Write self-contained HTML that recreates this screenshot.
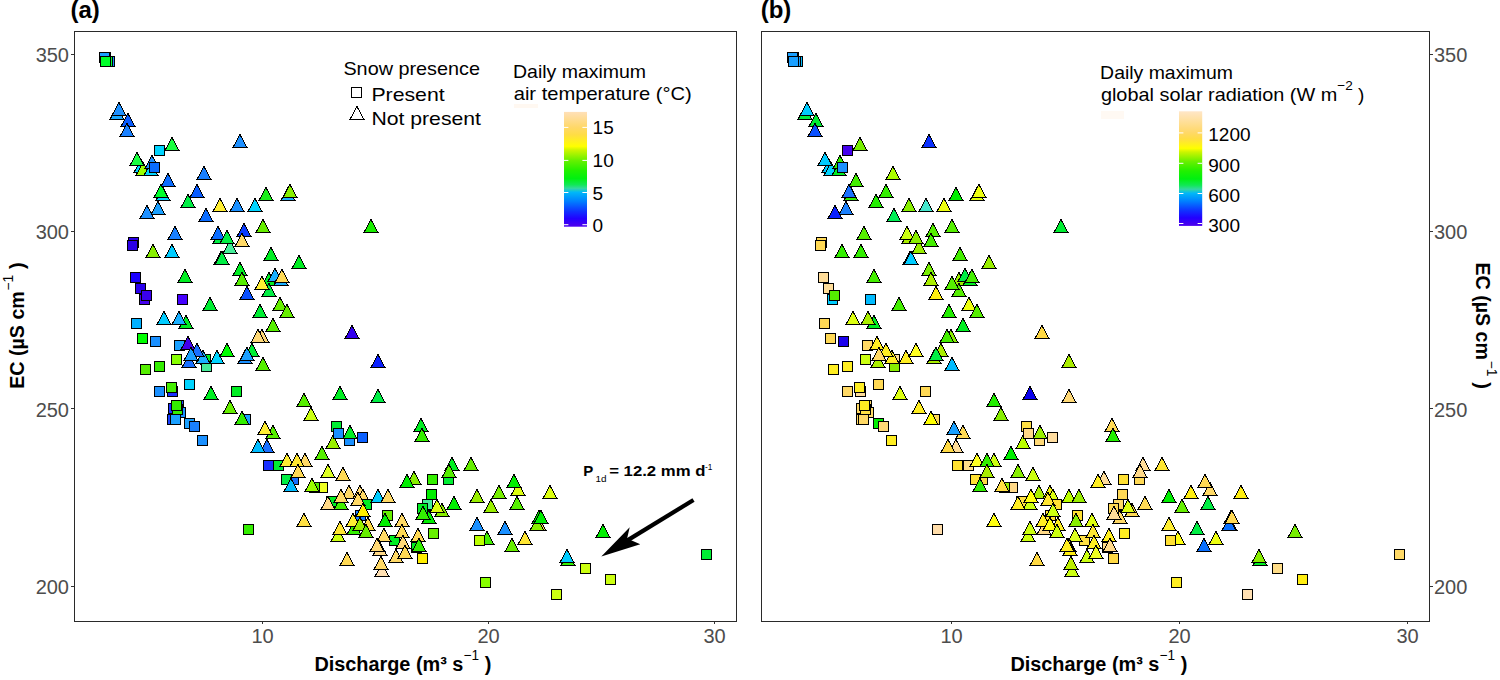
<!DOCTYPE html>
<html><head><meta charset="utf-8"><title>EC vs Discharge</title>
<style>
html,body{margin:0;padding:0;background:#fff;}
body{width:1500px;height:680px;overflow:hidden;font-family:"Liberation Sans",sans-serif;}
svg{display:block;font-family:"Liberation Sans",sans-serif;}
.tk{font-size:20px;fill:#4d4d4d;}
.ax{font-weight:bold;fill:#000;}
.lg{fill:#000;}
.mk path,.mk rect{stroke:#000;stroke-width:1.0;stroke-linejoin:miter;}
</style></head><body>
<svg width="1500" height="680" viewBox="0 0 1500 680">
<defs>
<linearGradient id="topo" x1="0" y1="1" x2="0" y2="0">
<stop offset="0" stop-color="#4c00f0"/>
<stop offset="0.018" stop-color="#4400f0"/>
<stop offset="0.07" stop-color="#2200ff"/>
<stop offset="0.132" stop-color="#1030ff"/>
<stop offset="0.222" stop-color="#0080ff"/>
<stop offset="0.3" stop-color="#00b8f8"/>
<stop offset="0.334" stop-color="#33d8a0"/>
<stop offset="0.366" stop-color="#11e855"/>
<stop offset="0.42" stop-color="#00f010"/>
<stop offset="0.49" stop-color="#22f000"/>
<stop offset="0.576" stop-color="#66f000"/>
<stop offset="0.667" stop-color="#ccf500"/>
<stop offset="0.7" stop-color="#ffff00"/>
<stop offset="0.8" stop-color="#ffdd44"/>
<stop offset="0.865" stop-color="#ffd868"/>
<stop offset="1.0" stop-color="#ffe0b8"/>
</linearGradient>
<linearGradient id="topo2" x1="0" y1="1" x2="0" y2="0">
<stop offset="0" stop-color="#4c00f0"/>
<stop offset="0.018" stop-color="#4400f0"/>
<stop offset="0.07" stop-color="#2200ff"/>
<stop offset="0.132" stop-color="#1030ff"/>
<stop offset="0.215" stop-color="#0080ff"/>
<stop offset="0.285" stop-color="#00b8f8"/>
<stop offset="0.32" stop-color="#33d8a0"/>
<stop offset="0.355" stop-color="#11e855"/>
<stop offset="0.41" stop-color="#00f010"/>
<stop offset="0.48" stop-color="#22f000"/>
<stop offset="0.56" stop-color="#66f000"/>
<stop offset="0.645" stop-color="#ccf500"/>
<stop offset="0.677" stop-color="#ffff00"/>
<stop offset="0.76" stop-color="#ffdd44"/>
<stop offset="0.815" stop-color="#ffd868"/>
<stop offset="1.0" stop-color="#ffe6c8"/>
</linearGradient>
</defs>
<rect width="1500" height="680" fill="#fff"/>

<text x="70.5" y="17.6" font-size="24" font-weight="bold">(a)</text>
<text x="760.7" y="17.6" font-size="24" font-weight="bold">(b)</text>
<g class="mk" shape-rendering="crispEdges">
<rect x="100.5" y="52.5" width="10" height="10" fill="#1a9fff"/>
<rect x="99.5" y="52.5" width="10" height="10" fill="#1a9fff"/>
<rect x="104.5" y="56.5" width="10" height="10" fill="#1a8cff"/>
<rect x="102.5" y="56.5" width="10" height="10" fill="#00ff2a"/>
<rect x="100.5" y="56.5" width="10" height="10" fill="#00ff2a"/>
<path d="M117 106.5L124 119.5L110 119.5Z" fill="#1aa8ff"/>
<path d="M119 102.5L126 115.5L112 115.5Z" fill="#1e90ff"/>
<path d="M128 113.5L135 126.5L121 126.5Z" fill="#0a5cff"/>
<path d="M127 123.5L134 136.5L120 136.5Z" fill="#1a80ff"/>
<path d="M172 137.5L179 150.5L165 150.5Z" fill="#1aff40"/>
<rect x="154.5" y="145.5" width="10" height="10" fill="#00d4ff"/>
<path d="M240 134.5L247 147.5L233 147.5Z" fill="#1e90ff"/>
<path d="M141 159.5L148 172.5L134 172.5Z" fill="#00d4ff"/>
<path d="M143 162.5L150 175.5L136 175.5Z" fill="#99ff00"/>
<path d="M137 152.5L144 165.5L130 165.5Z" fill="#1aff40"/>
<path d="M151 162.5L158 175.5L144 175.5Z" fill="#00d4ff"/>
<path d="M152 155.5L159 168.5L145 168.5Z" fill="#1e90ff"/>
<rect x="149.5" y="162.5" width="10" height="10" fill="#0a6cff"/>
<path d="M168 173.5L175 186.5L161 186.5Z" fill="#0a6cff"/>
<path d="M163 187.5L170 200.5L156 200.5Z" fill="#00d4ff"/>
<path d="M161 184.5L168 197.5L154 197.5Z" fill="#00ff2a"/>
<path d="M204 166.5L211 179.5L197 179.5Z" fill="#1a80ff"/>
<path d="M197 184.5L204 197.5L190 197.5Z" fill="#0a5cff"/>
<path d="M266 187.5L273 200.5L259 200.5Z" fill="#1aee1a"/>
<path d="M188 194.5L195 207.5L181 207.5Z" fill="#00ee44"/>
<path d="M158 201.5L165 214.5L151 214.5Z" fill="#1aa0ff"/>
<path d="M147 205.5L154 218.5L140 218.5Z" fill="#1e90ff"/>
<path d="M220 198.5L227 211.5L213 211.5Z" fill="#ffee33"/>
<path d="M237 198.5L244 211.5L230 211.5Z" fill="#1a90ff"/>
<path d="M255 198.5L262 211.5L248 211.5Z" fill="#00d4ff"/>
<path d="M206 208.5L213 221.5L199 221.5Z" fill="#0a6cff"/>
<path d="M175 226.5L182 239.5L168 239.5Z" fill="#1a80ff"/>
<path d="M220 230.5L227 243.5L213 243.5Z" fill="#00ee44"/>
<path d="M218 226.5L225 239.5L211 239.5Z" fill="#0a6cff"/>
<path d="M230 240.5L237 253.5L223 253.5Z" fill="#44ee99"/>
<path d="M227 230.5L234 243.5L220 243.5Z" fill="#00ee44"/>
<path d="M244 223.5L251 236.5L237 236.5Z" fill="#0a3cff"/>
<path d="M263 219.5L270 232.5L256 232.5Z" fill="#66ee00"/>
<path d="M242 233.5L249 246.5L235 246.5Z" fill="#ffd966"/>
<path d="M221 251.5L228 264.5L214 264.5Z" fill="#00ee44"/>
<path d="M222 251.5L229 264.5L215 264.5Z" fill="#00ee44"/>
<path d="M271 247.5L278 260.5L264 260.5Z" fill="#00ee22"/>
<rect x="128.5" y="237.5" width="10" height="10" fill="#2a00e6"/>
<rect x="127.5" y="240.5" width="10" height="10" fill="#2a00e6"/>
<path d="M153 244.5L160 257.5L146 257.5Z" fill="#88ee00"/>
<path d="M172 244.5L179 257.5L165 257.5Z" fill="#00ccff"/>
<rect x="130.5" y="272.5" width="10" height="10" fill="#1a00ff"/>
<rect x="135.5" y="283.5" width="10" height="10" fill="#2a00ee"/>
<rect x="139.5" y="294.5" width="10" height="10" fill="#4400ee"/>
<rect x="141.5" y="290.5" width="10" height="10" fill="#3a00ee"/>
<rect x="177.5" y="294.5" width="10" height="10" fill="#4400ff"/>
<path d="M185 269.5L192 282.5L178 282.5Z" fill="#00ee22"/>
<path d="M210 297.5L217 310.5L203 310.5Z" fill="#00ee33"/>
<path d="M164 311.5L171 324.5L157 324.5Z" fill="#00ccff"/>
<path d="M186 315.5L193 328.5L179 328.5Z" fill="#00ee22"/>
<path d="M179 311.5L186 324.5L172 324.5Z" fill="#1ab0ff"/>
<rect x="131.5" y="318.5" width="10" height="10" fill="#00b0ff"/>
<rect x="137.5" y="333.5" width="10" height="10" fill="#00ff00"/>
<rect x="150.5" y="336.5" width="10" height="10" fill="#1a90ff"/>
<rect x="174.5" y="340.5" width="10" height="10" fill="#1aa0ff"/>
<path d="M188 336.5L195 349.5L181 349.5Z" fill="#4400ee"/>
<rect x="200.5" y="354.5" width="10" height="10" fill="#00ee22"/>
<rect x="201.5" y="361.5" width="10" height="10" fill="#44ee99"/>
<path d="M189 354.5L196 367.5L182 367.5Z" fill="#1a70ff"/>
<path d="M203 350.5L210 363.5L196 363.5Z" fill="#1ab0ff"/>
<path d="M197 343.5L204 356.5L190 356.5Z" fill="#1a70ff"/>
<path d="M191 347.5L198 360.5L184 360.5Z" fill="#1aa0ff"/>
<rect x="171.5" y="354.5" width="10" height="10" fill="#88ff00"/>
<path d="M217 350.5L224 363.5L210 363.5Z" fill="#00d4ff"/>
<path d="M227 343.5L234 356.5L220 356.5Z" fill="#00ff00"/>
<path d="M252 343.5L259 356.5L245 356.5Z" fill="#00ee33"/>
<path d="M245 350.5L252 363.5L238 363.5Z" fill="#1a90ff"/>
<path d="M247 347.5L254 360.5L240 360.5Z" fill="#1aa0ff"/>
<path d="M240 262.5L247 275.5L233 275.5Z" fill="#00ee22"/>
<path d="M242 272.5L249 285.5L235 285.5Z" fill="#55ee00"/>
<path d="M247 286.5L254 299.5L240 299.5Z" fill="#0a50ff"/>
<path d="M269 272.5L276 285.5L262 285.5Z" fill="#00ee22"/>
<path d="M269 283.5L276 296.5L262 296.5Z" fill="#00ee44"/>
<path d="M262 276.5L269 289.5L255 289.5Z" fill="#ffee33"/>
<path d="M281 272.5L288 285.5L274 285.5Z" fill="#1ab0ff"/>
<path d="M275 268.5L282 281.5L268 281.5Z" fill="#1ab0ff"/>
<path d="M282 269.5L289 282.5L275 282.5Z" fill="#ffd955"/>
<path d="M260 304.5L267 317.5L253 317.5Z" fill="#00ee33"/>
<path d="M280 297.5L287 310.5L273 310.5Z" fill="#66ee00"/>
<path d="M287 304.5L294 317.5L280 317.5Z" fill="#66ee00"/>
<path d="M273 318.5L280 331.5L266 331.5Z" fill="#55ee00"/>
<path d="M262 329.5L269 342.5L255 342.5Z" fill="#ffd977"/>
<path d="M258 329.5L265 342.5L251 342.5Z" fill="#ffd977"/>
<path d="M263 357.5L270 370.5L256 370.5Z" fill="#55ee00"/>
<rect x="154.5" y="361.5" width="10" height="10" fill="#33ee00"/>
<rect x="140.5" y="364.5" width="10" height="10" fill="#55ee00"/>
<rect x="184.5" y="379.5" width="10" height="10" fill="#00d4ff"/>
<rect x="154.5" y="386.5" width="10" height="10" fill="#1a90ff"/>
<rect x="167.5" y="386.5" width="10" height="10" fill="#1a30ff"/>
<rect x="166.5" y="382.5" width="10" height="10" fill="#44ee00"/>
<path d="M211 386.5L218 399.5L204 399.5Z" fill="#00ee22"/>
<rect x="231.5" y="386.5" width="10" height="10" fill="#00ee22"/>
<rect x="168.5" y="403.5" width="10" height="10" fill="#1a30ff"/>
<rect x="173.5" y="400.5" width="10" height="10" fill="#1a50ff"/>
<rect x="175.5" y="407.5" width="10" height="10" fill="#1a90ff"/>
<rect x="172.5" y="404.5" width="10" height="10" fill="#33ee00"/>
<rect x="171.5" y="400.5" width="10" height="10" fill="#33ee00"/>
<rect x="167.5" y="414.5" width="10" height="10" fill="#1a40ff"/>
<rect x="170.5" y="414.5" width="10" height="10" fill="#1aa0ff"/>
<rect x="184.5" y="418.5" width="10" height="10" fill="#1aa0ff"/>
<rect x="189.5" y="421.5" width="10" height="10" fill="#1a80ff"/>
<rect x="197.5" y="435.5" width="10" height="10" fill="#1a90ff"/>
<path d="M230 400.5L237 413.5L223 413.5Z" fill="#66ee00"/>
<rect x="240.5" y="414.5" width="10" height="10" fill="#1aa0ff"/>
<path d="M242 411.5L249 424.5L235 424.5Z" fill="#33ee00"/>
<path d="M273 425.5L280 438.5L266 438.5Z" fill="#55ee00"/>
<path d="M265 421.5L272 434.5L258 434.5Z" fill="#ffee33"/>
<path d="M267 439.5L274 452.5L260 452.5Z" fill="#1a70ff"/>
<path d="M258 439.5L265 452.5L251 452.5Z" fill="#00bbff"/>
<rect x="263.5" y="460.5" width="10" height="10" fill="#1a30ff"/>
<rect x="273.5" y="460.5" width="10" height="10" fill="#00ee33"/>
<path d="M305 453.5L312 466.5L298 466.5Z" fill="#ffd966"/>
<path d="M287 453.5L294 466.5L280 466.5Z" fill="#ffee33"/>
<path d="M297 453.5L304 466.5L290 466.5Z" fill="#ffe633"/>
<rect x="288.5" y="474.5" width="10" height="10" fill="#1a70ff"/>
<rect x="281.5" y="474.5" width="10" height="10" fill="#00ee44"/>
<path d="M298 464.5L305 477.5L291 477.5Z" fill="#ffd955"/>
<path d="M291 478.5L298 491.5L284 491.5Z" fill="#00bbff"/>
<rect x="317.5" y="482.5" width="10" height="10" fill="#eeff22"/>
<rect x="309.5" y="482.5" width="10" height="10" fill="#55ee00"/>
<path d="M312 478.5L319 491.5L305 491.5Z" fill="#99ff00"/>
<path d="M322 446.5L329 459.5L315 459.5Z" fill="#55ee00"/>
<path d="M333 435.5L340 448.5L326 448.5Z" fill="#99ee00"/>
<path d="M328 464.5L335 477.5L321 477.5Z" fill="#ddff22"/>
<path d="M343 467.5L350 480.5L336 480.5Z" fill="#ffd955"/>
<path d="M288 187.5L295 200.5L281 200.5Z" fill="#1ab0ff"/>
<path d="M290 184.5L297 197.5L283 197.5Z" fill="#88ee00"/>
<path d="M371 219.5L378 232.5L364 232.5Z" fill="#1aee00"/>
<path d="M299 255.5L306 268.5L292 268.5Z" fill="#00ee22"/>
<path d="M352 325.5L359 338.5L345 338.5Z" fill="#3300ee"/>
<path d="M378 354.5L385 367.5L371 367.5Z" fill="#0a20ff"/>
<path d="M340 386.5L347 399.5L333 399.5Z" fill="#00ee22"/>
<path d="M378 389.5L385 402.5L371 402.5Z" fill="#00ee44"/>
<path d="M304 393.5L311 406.5L297 406.5Z" fill="#55ee00"/>
<path d="M311 407.5L318 420.5L304 420.5Z" fill="#ccff11"/>
<rect x="331.5" y="421.5" width="10" height="10" fill="#00ee33"/>
<rect x="333.5" y="428.5" width="10" height="10" fill="#1a90ff"/>
<rect x="344.5" y="435.5" width="10" height="10" fill="#1a90ff"/>
<path d="M350 425.5L357 438.5L343 438.5Z" fill="#00ee22"/>
<rect x="357.5" y="432.5" width="10" height="10" fill="#0a60ff"/>
<path d="M421 418.5L428 431.5L414 431.5Z" fill="#00ee22"/>
<path d="M422 428.5L429 441.5L415 441.5Z" fill="#33ee00"/>
<path d="M452 457.5L459 470.5L445 470.5Z" fill="#00ee22"/>
<rect x="443.5" y="474.5" width="10" height="10" fill="#00ee33"/>
<path d="M449 464.5L456 477.5L442 477.5Z" fill="#55ee00"/>
<rect x="427.5" y="474.5" width="10" height="10" fill="#33ee00"/>
<path d="M414 471.5L421 484.5L407 484.5Z" fill="#88ee00"/>
<path d="M407 474.5L414 487.5L400 487.5Z" fill="#00ee00"/>
<rect x="326.5" y="496.5" width="10" height="10" fill="#00ee22"/>
<path d="M341 496.5L348 509.5L334 509.5Z" fill="#44ee00"/>
<path d="M349 485.5L356 498.5L342 498.5Z" fill="#ffd966"/>
<path d="M360 485.5L367 498.5L353 498.5Z" fill="#ffd977"/>
<path d="M363 489.5L370 502.5L356 502.5Z" fill="#ffd966"/>
<path d="M341 489.5L348 502.5L334 502.5Z" fill="#ffd966"/>
<rect x="361.5" y="499.5" width="10" height="10" fill="#00ee22"/>
<path d="M358 492.5L365 505.5L351 505.5Z" fill="#ffd966"/>
<path d="M328 496.5L335 509.5L321 509.5Z" fill="#ffd988"/>
<path d="M378 489.5L385 502.5L371 502.5Z" fill="#00ccff"/>
<path d="M388 489.5L395 502.5L381 502.5Z" fill="#ffd966"/>
<rect x="355.5" y="510.5" width="10" height="10" fill="#1a80ff"/>
<path d="M363 503.5L370 516.5L356 516.5Z" fill="#ffee00"/>
<rect x="382.5" y="510.5" width="10" height="10" fill="#66ee00"/>
<path d="M385 513.5L392 526.5L378 526.5Z" fill="#00ee00"/>
<path d="M402 513.5L409 526.5L395 526.5Z" fill="#ffd966"/>
<path d="M304 513.5L311 526.5L297 526.5Z" fill="#ffe044"/>
<path d="M354 521.5L361 534.5L347 534.5Z" fill="#33ee00"/>
<path d="M353 513.5L360 526.5L346 526.5Z" fill="#ffee33"/>
<path d="M368 517.5L375 530.5L361 530.5Z" fill="#ffd944"/>
<path d="M360 517.5L367 530.5L353 530.5Z" fill="#99ee00"/>
<path d="M338 528.5L345 541.5L331 541.5Z" fill="#ccff11"/>
<path d="M340 521.5L347 534.5L333 534.5Z" fill="#ffe633"/>
<path d="M366 524.5L373 537.5L359 537.5Z" fill="#66ee00"/>
<rect x="389.5" y="535.5" width="10" height="10" fill="#00ee22"/>
<path d="M384 528.5L391 541.5L377 541.5Z" fill="#ffd966"/>
<path d="M402 524.5L409 537.5L395 537.5Z" fill="#ffd955"/>
<path d="M403 535.5L410 548.5L396 548.5Z" fill="#ffd977"/>
<path d="M378 538.5L385 551.5L371 551.5Z" fill="#ffd977"/>
<path d="M380 542.5L387 555.5L373 555.5Z" fill="#ffd988"/>
<path d="M377 538.5L384 551.5L370 551.5Z" fill="#ffd977"/>
<path d="M396 549.5L403 562.5L389 562.5Z" fill="#ffd966"/>
<path d="M405 545.5L412 558.5L398 558.5Z" fill="#ffd955"/>
<path d="M382 563.5L389 576.5L375 576.5Z" fill="#ffe0b3"/>
<path d="M381 556.5L388 569.5L374 569.5Z" fill="#ffd966"/>
<path d="M347 552.5L354 565.5L340 565.5Z" fill="#ffd955"/>
<path d="M418 528.5L425 541.5L411 541.5Z" fill="#ffd955"/>
<rect x="411.5" y="542.5" width="10" height="10" fill="#00ee22"/>
<path d="M419 538.5L426 551.5L412 551.5Z" fill="#33ee00"/>
<rect x="417.5" y="553.5" width="10" height="10" fill="#ffee00"/>
<rect x="426.5" y="489.5" width="10" height="10" fill="#00ee00"/>
<rect x="422.5" y="499.5" width="10" height="10" fill="#44ee99"/>
<rect x="417.5" y="503.5" width="10" height="10" fill="#00ee22"/>
<path d="M429 510.5L436 523.5L422 523.5Z" fill="#00ee00"/>
<path d="M423 506.5L430 519.5L416 519.5Z" fill="#33ee00"/>
<path d="M442 503.5L449 516.5L435 516.5Z" fill="#88ee00"/>
<path d="M437 499.5L444 512.5L430 512.5Z" fill="#ddff11"/>
<path d="M454 496.5L461 509.5L447 509.5Z" fill="#00ee00"/>
<path d="M477 489.5L484 502.5L470 502.5Z" fill="#99ee00"/>
<path d="M499 485.5L506 498.5L492 498.5Z" fill="#77ee00"/>
<path d="M491 499.5L498 512.5L484 512.5Z" fill="#99ee00"/>
<path d="M518 482.5L525 495.5L511 495.5Z" fill="#ddff11"/>
<path d="M514 474.5L521 487.5L507 487.5Z" fill="#00ee00"/>
<path d="M517 496.5L524 509.5L510 509.5Z" fill="#55ee00"/>
<path d="M477 517.5L484 530.5L470 530.5Z" fill="#1a90ff"/>
<path d="M505 521.5L512 534.5L498 534.5Z" fill="#1a90ff"/>
<rect x="428.5" y="528.5" width="10" height="10" fill="#66ee00"/>
<path d="M487 531.5L494 544.5L480 544.5Z" fill="#44ee00"/>
<rect x="474.5" y="535.5" width="10" height="10" fill="#bbff00"/>
<path d="M512 538.5L519 551.5L505 551.5Z" fill="#66ee00"/>
<rect x="480.5" y="577.5" width="10" height="10" fill="#88ff00"/>
<rect x="551.5" y="589.5" width="10" height="10" fill="#ccff11"/>
<rect x="580.5" y="563.5" width="10" height="10" fill="#ccff11"/>
<path d="M568 552.5L575 565.5L561 565.5Z" fill="#33ee00"/>
<path d="M567 549.5L574 562.5L560 562.5Z" fill="#00ccff"/>
<path d="M471 457.5L478 470.5L464 470.5Z" fill="#66ee00"/>
<path d="M550 485.5L557 498.5L543 498.5Z" fill="#ddff11"/>
<path d="M539 517.5L546 530.5L532 530.5Z" fill="#ffd955"/>
<path d="M537 517.5L544 530.5L530 530.5Z" fill="#88ee00"/>
<path d="M539 510.5L546 523.5L532 523.5Z" fill="#00ee00"/>
<path d="M541 510.5L548 523.5L534 523.5Z" fill="#00ee00"/>
<path d="M525 531.5L532 544.5L518 544.5Z" fill="#ffe633"/>
<path d="M603 524.5L610 537.5L596 537.5Z" fill="#00ee00"/>
<rect x="605.5" y="574.5" width="10" height="10" fill="#ccff11"/>
<rect x="701.5" y="549.5" width="10" height="10" fill="#00ee33"/>
<rect x="243.5" y="524.5" width="10" height="10" fill="#33ee00"/>
</g>
<g class="mk" shape-rendering="crispEdges">
<rect x="788.5" y="52.5" width="10" height="10" fill="#1a9fff"/>
<rect x="787.5" y="52.5" width="10" height="10" fill="#1a9fff"/>
<rect x="792.5" y="56.5" width="10" height="10" fill="#00bbff"/>
<rect x="790.5" y="56.5" width="10" height="10" fill="#1a9fff"/>
<rect x="788.5" y="56.5" width="10" height="10" fill="#1a9fff"/>
<path d="M805 106.5L812 119.5L798 119.5Z" fill="#00ee44"/>
<path d="M807 102.5L814 115.5L800 115.5Z" fill="#00ccff"/>
<path d="M816 113.5L823 126.5L809 126.5Z" fill="#00ee33"/>
<path d="M815 123.5L822 136.5L808 136.5Z" fill="#0a50ff"/>
<path d="M860 137.5L867 150.5L853 150.5Z" fill="#77ee00"/>
<rect x="842.5" y="145.5" width="10" height="10" fill="#4400ee"/>
<path d="M929 134.5L936 147.5L922 147.5Z" fill="#0a30ff"/>
<path d="M829 159.5L836 172.5L822 172.5Z" fill="#00ccff"/>
<path d="M831 162.5L838 175.5L824 175.5Z" fill="#00d4ff"/>
<path d="M825 152.5L832 165.5L818 165.5Z" fill="#00ccff"/>
<path d="M839 162.5L846 175.5L832 175.5Z" fill="#00ee22"/>
<path d="M840 155.5L847 168.5L833 168.5Z" fill="#33ee00"/>
<rect x="837.5" y="162.5" width="10" height="10" fill="#1a90ff"/>
<path d="M856 173.5L863 186.5L849 186.5Z" fill="#44ee00"/>
<path d="M851 187.5L858 200.5L844 200.5Z" fill="#33ee00"/>
<path d="M849 184.5L856 197.5L842 197.5Z" fill="#1a70ff"/>
<path d="M893 166.5L900 179.5L886 179.5Z" fill="#aaff00"/>
<path d="M886 184.5L893 197.5L879 197.5Z" fill="#33ee00"/>
<path d="M956 187.5L963 200.5L949 200.5Z" fill="#00ee00"/>
<path d="M876 194.5L883 207.5L869 207.5Z" fill="#22ee00"/>
<path d="M846 201.5L853 214.5L839 214.5Z" fill="#1a80ff"/>
<path d="M835 205.5L842 218.5L828 218.5Z" fill="#0a20ff"/>
<path d="M909 198.5L916 211.5L902 211.5Z" fill="#88ee00"/>
<path d="M926 198.5L933 211.5L919 211.5Z" fill="#44e6cc"/>
<path d="M944 198.5L951 211.5L937 211.5Z" fill="#eeff11"/>
<path d="M894 208.5L901 221.5L887 221.5Z" fill="#00ee55"/>
<path d="M864 226.5L871 239.5L857 239.5Z" fill="#55ee00"/>
<path d="M909 230.5L916 243.5L902 243.5Z" fill="#aaee00"/>
<path d="M907 226.5L914 239.5L900 239.5Z" fill="#ccff11"/>
<path d="M919 240.5L926 253.5L912 253.5Z" fill="#99ee00"/>
<path d="M916 230.5L923 243.5L909 243.5Z" fill="#88ee00"/>
<path d="M933 223.5L940 236.5L926 236.5Z" fill="#55ee00"/>
<path d="M952 219.5L959 232.5L945 232.5Z" fill="#55ee00"/>
<path d="M931 233.5L938 246.5L924 246.5Z" fill="#44ee00"/>
<path d="M910 251.5L917 264.5L903 264.5Z" fill="#00ccff"/>
<path d="M911 251.5L918 264.5L904 264.5Z" fill="#00ccff"/>
<path d="M960 247.5L967 260.5L953 260.5Z" fill="#44ee00"/>
<rect x="816.5" y="237.5" width="10" height="10" fill="#ffd955"/>
<rect x="815.5" y="240.5" width="10" height="10" fill="#ffd955"/>
<path d="M842 244.5L849 257.5L835 257.5Z" fill="#33ee00"/>
<path d="M861 244.5L868 257.5L854 257.5Z" fill="#33ee00"/>
<rect x="818.5" y="272.5" width="10" height="10" fill="#ffdd99"/>
<rect x="823.5" y="283.5" width="10" height="10" fill="#ffdd99"/>
<rect x="827.5" y="294.5" width="10" height="10" fill="#00ccff"/>
<rect x="829.5" y="290.5" width="10" height="10" fill="#55ee00"/>
<rect x="865.5" y="294.5" width="10" height="10" fill="#00bbff"/>
<path d="M874 269.5L881 282.5L867 282.5Z" fill="#44ee00"/>
<path d="M899 297.5L906 310.5L892 310.5Z" fill="#44ee00"/>
<path d="M853 311.5L860 324.5L846 324.5Z" fill="#ddff11"/>
<path d="M874 315.5L881 328.5L867 328.5Z" fill="#00ee22"/>
<path d="M868 311.5L875 324.5L861 324.5Z" fill="#aaee00"/>
<rect x="819.5" y="318.5" width="10" height="10" fill="#ffd955"/>
<rect x="825.5" y="333.5" width="10" height="10" fill="#ffd955"/>
<rect x="838.5" y="336.5" width="10" height="10" fill="#1a00ee"/>
<rect x="862.5" y="340.5" width="10" height="10" fill="#ffd966"/>
<path d="M877 336.5L884 349.5L870 349.5Z" fill="#ffee22"/>
<rect x="889.5" y="354.5" width="10" height="10" fill="#ffdd99"/>
<rect x="889.5" y="361.5" width="10" height="10" fill="#88ee00"/>
<path d="M878 354.5L885 367.5L871 367.5Z" fill="#aaee00"/>
<path d="M892 350.5L899 363.5L885 363.5Z" fill="#ffee22"/>
<path d="M886 343.5L893 356.5L879 356.5Z" fill="#ffee22"/>
<path d="M879 347.5L886 360.5L872 360.5Z" fill="#ffd966"/>
<rect x="860.5" y="354.5" width="10" height="10" fill="#ccff11"/>
<path d="M906 350.5L913 363.5L899 363.5Z" fill="#ffee22"/>
<path d="M916 343.5L923 356.5L909 356.5Z" fill="#ffff22"/>
<path d="M941 343.5L948 356.5L934 356.5Z" fill="#aaee00"/>
<path d="M934 350.5L941 363.5L927 363.5Z" fill="#aaee00"/>
<path d="M936 347.5L943 360.5L929 360.5Z" fill="#00ee44"/>
<path d="M929 262.5L936 275.5L922 275.5Z" fill="#77ee00"/>
<path d="M931 272.5L938 285.5L924 285.5Z" fill="#aaee00"/>
<path d="M936 286.5L943 299.5L929 299.5Z" fill="#ffee11"/>
<path d="M959 272.5L966 285.5L952 285.5Z" fill="#99ee00"/>
<path d="M959 283.5L966 296.5L952 296.5Z" fill="#55ee00"/>
<path d="M952 276.5L959 289.5L945 289.5Z" fill="#55ee00"/>
<path d="M970 272.5L977 285.5L963 285.5Z" fill="#00ee22"/>
<path d="M965 268.5L972 281.5L958 281.5Z" fill="#00ee44"/>
<path d="M972 269.5L979 282.5L965 282.5Z" fill="#44ee00"/>
<path d="M949 304.5L956 317.5L942 317.5Z" fill="#22ee00"/>
<path d="M969 297.5L976 310.5L962 310.5Z" fill="#eeff11"/>
<path d="M977 304.5L984 317.5L970 317.5Z" fill="#55ee00"/>
<path d="M963 318.5L970 331.5L956 331.5Z" fill="#00ee22"/>
<path d="M951 329.5L958 342.5L944 342.5Z" fill="#88ee00"/>
<path d="M947 329.5L954 342.5L940 342.5Z" fill="#44ee00"/>
<path d="M952 357.5L959 370.5L945 370.5Z" fill="#00bbff"/>
<rect x="842.5" y="361.5" width="10" height="10" fill="#ffee22"/>
<rect x="828.5" y="364.5" width="10" height="10" fill="#ffee22"/>
<rect x="873.5" y="379.5" width="10" height="10" fill="#ffd955"/>
<rect x="842.5" y="386.5" width="10" height="10" fill="#ffd966"/>
<rect x="855.5" y="386.5" width="10" height="10" fill="#ffdd99"/>
<rect x="854.5" y="382.5" width="10" height="10" fill="#ffee22"/>
<path d="M900 386.5L907 399.5L893 399.5Z" fill="#ddff11"/>
<rect x="920.5" y="386.5" width="10" height="10" fill="#ffd955"/>
<rect x="856.5" y="403.5" width="10" height="10" fill="#ffd966"/>
<rect x="861.5" y="400.5" width="10" height="10" fill="#ffd966"/>
<rect x="863.5" y="407.5" width="10" height="10" fill="#ffd966"/>
<rect x="860.5" y="404.5" width="10" height="10" fill="#ffe044"/>
<rect x="859.5" y="400.5" width="10" height="10" fill="#ffee22"/>
<rect x="856.5" y="414.5" width="10" height="10" fill="#ffd966"/>
<rect x="858.5" y="414.5" width="10" height="10" fill="#ffd966"/>
<rect x="873.5" y="418.5" width="10" height="10" fill="#00ee00"/>
<rect x="878.5" y="421.5" width="10" height="10" fill="#ffd977"/>
<rect x="886.5" y="435.5" width="10" height="10" fill="#ffee22"/>
<path d="M919 400.5L926 413.5L912 413.5Z" fill="#ffee22"/>
<rect x="929.5" y="414.5" width="10" height="10" fill="#ffd955"/>
<path d="M931 411.5L938 424.5L924 424.5Z" fill="#ffff00"/>
<path d="M963 425.5L970 438.5L956 438.5Z" fill="#ffd955"/>
<path d="M954 421.5L961 434.5L947 434.5Z" fill="#1aa0ff"/>
<path d="M956 439.5L963 452.5L949 452.5Z" fill="#ffdd99"/>
<path d="M948 439.5L955 452.5L941 452.5Z" fill="#ffd944"/>
<rect x="952.5" y="460.5" width="10" height="10" fill="#ffe033"/>
<rect x="963.5" y="460.5" width="10" height="10" fill="#ffdd88"/>
<path d="M994 453.5L1001 466.5L987 466.5Z" fill="#ccff11"/>
<path d="M977 453.5L984 466.5L970 466.5Z" fill="#ffff22"/>
<path d="M987 453.5L994 466.5L980 466.5Z" fill="#33ee00"/>
<rect x="977.5" y="474.5" width="10" height="10" fill="#ffd944"/>
<rect x="970.5" y="474.5" width="10" height="10" fill="#ffe033"/>
<path d="M987 464.5L994 477.5L980 477.5Z" fill="#aaee00"/>
<path d="M980 478.5L987 491.5L973 491.5Z" fill="#33ee00"/>
<rect x="1007.5" y="482.5" width="10" height="10" fill="#ffd988"/>
<rect x="999.5" y="482.5" width="10" height="10" fill="#99ee00"/>
<path d="M1002 478.5L1009 491.5L995 491.5Z" fill="#ffe044"/>
<path d="M1011 446.5L1018 459.5L1004 459.5Z" fill="#00ee00"/>
<path d="M1023 435.5L1030 448.5L1016 448.5Z" fill="#bbff00"/>
<path d="M1018 464.5L1025 477.5L1011 477.5Z" fill="#88ee00"/>
<path d="M1033 467.5L1040 480.5L1026 480.5Z" fill="#ccff11"/>
<path d="M977 187.5L984 200.5L970 200.5Z" fill="#ddff11"/>
<path d="M979 184.5L986 197.5L972 197.5Z" fill="#eeff11"/>
<path d="M1061 219.5L1068 232.5L1054 232.5Z" fill="#00ee33"/>
<path d="M989 255.5L996 268.5L982 268.5Z" fill="#99ee00"/>
<path d="M1042 325.5L1049 338.5L1035 338.5Z" fill="#ffd944"/>
<path d="M1069 354.5L1076 367.5L1062 367.5Z" fill="#aaee00"/>
<path d="M1030 386.5L1037 399.5L1023 399.5Z" fill="#0a00ee"/>
<path d="M1069 389.5L1076 402.5L1062 402.5Z" fill="#ffd977"/>
<path d="M994 393.5L1001 406.5L987 406.5Z" fill="#22ee00"/>
<path d="M1001 407.5L1008 420.5L994 420.5Z" fill="#88ee00"/>
<rect x="1021.5" y="421.5" width="10" height="10" fill="#ffe044"/>
<rect x="1023.5" y="428.5" width="10" height="10" fill="#ffd988"/>
<rect x="1034.5" y="435.5" width="10" height="10" fill="#ffd977"/>
<path d="M1040 425.5L1047 438.5L1033 438.5Z" fill="#99ee00"/>
<rect x="1047.5" y="432.5" width="10" height="10" fill="#ffdda0"/>
<path d="M1112 418.5L1119 431.5L1105 431.5Z" fill="#ffd955"/>
<path d="M1113 428.5L1120 441.5L1106 441.5Z" fill="#22ee00"/>
<path d="M1143 457.5L1150 470.5L1136 470.5Z" fill="#ffdd99"/>
<rect x="1134.5" y="474.5" width="10" height="10" fill="#ffd955"/>
<path d="M1140 464.5L1147 477.5L1133 477.5Z" fill="#ffd988"/>
<rect x="1118.5" y="474.5" width="10" height="10" fill="#ffe033"/>
<path d="M1104 471.5L1111 484.5L1097 484.5Z" fill="#ffdd99"/>
<path d="M1098 474.5L1105 487.5L1091 487.5Z" fill="#ffee22"/>
<rect x="1016.5" y="496.5" width="10" height="10" fill="#ffe044"/>
<path d="M1030 496.5L1037 509.5L1023 509.5Z" fill="#ccff11"/>
<path d="M1039 485.5L1046 498.5L1032 498.5Z" fill="#aaee00"/>
<path d="M1050 485.5L1057 498.5L1043 498.5Z" fill="#eeee11"/>
<path d="M1053 489.5L1060 502.5L1046 502.5Z" fill="#ddff11"/>
<path d="M1031 489.5L1038 502.5L1024 502.5Z" fill="#ffff11"/>
<rect x="1051.5" y="499.5" width="10" height="10" fill="#ffe033"/>
<path d="M1048 492.5L1055 505.5L1041 505.5Z" fill="#ffe633"/>
<path d="M1018 496.5L1025 509.5L1011 509.5Z" fill="#ffee22"/>
<path d="M1069 489.5L1076 502.5L1062 502.5Z" fill="#bbff00"/>
<path d="M1079 489.5L1086 502.5L1072 502.5Z" fill="#99ee00"/>
<rect x="1045.5" y="510.5" width="10" height="10" fill="#ffe033"/>
<path d="M1053 503.5L1060 516.5L1046 516.5Z" fill="#ccff11"/>
<rect x="1072.5" y="510.5" width="10" height="10" fill="#ffe033"/>
<path d="M1076 513.5L1083 526.5L1069 526.5Z" fill="#88ee00"/>
<path d="M1092 513.5L1099 526.5L1085 526.5Z" fill="#ddff11"/>
<path d="M994 513.5L1001 526.5L987 526.5Z" fill="#ffff11"/>
<path d="M1044 521.5L1051 534.5L1037 534.5Z" fill="#ffd988"/>
<path d="M1043 513.5L1050 526.5L1036 526.5Z" fill="#ffee22"/>
<path d="M1058 517.5L1065 530.5L1051 530.5Z" fill="#ffee22"/>
<path d="M1050 517.5L1057 530.5L1043 530.5Z" fill="#ffff11"/>
<path d="M1028 528.5L1035 541.5L1021 541.5Z" fill="#ccff11"/>
<path d="M1030 521.5L1037 534.5L1023 534.5Z" fill="#ccff11"/>
<path d="M1057 524.5L1064 537.5L1050 537.5Z" fill="#ccff11"/>
<rect x="1079.5" y="535.5" width="10" height="10" fill="#ffe044"/>
<path d="M1075 528.5L1082 541.5L1068 541.5Z" fill="#ddff22"/>
<path d="M1093 524.5L1100 537.5L1086 537.5Z" fill="#ffe633"/>
<path d="M1094 535.5L1101 548.5L1087 548.5Z" fill="#ffee22"/>
<path d="M1069 538.5L1076 551.5L1062 551.5Z" fill="#ffee22"/>
<path d="M1070 542.5L1077 555.5L1063 555.5Z" fill="#ffee11"/>
<path d="M1067 538.5L1074 551.5L1060 551.5Z" fill="#ffee22"/>
<path d="M1087 549.5L1094 562.5L1080 562.5Z" fill="#ccff11"/>
<path d="M1096 545.5L1103 558.5L1089 558.5Z" fill="#eeff22"/>
<path d="M1072 563.5L1079 576.5L1065 576.5Z" fill="#ccff11"/>
<path d="M1071 556.5L1078 569.5L1064 569.5Z" fill="#bbee00"/>
<path d="M1037 552.5L1044 565.5L1030 565.5Z" fill="#ffd944"/>
<path d="M1109 528.5L1116 541.5L1102 541.5Z" fill="#ffee22"/>
<rect x="1102.5" y="542.5" width="10" height="10" fill="#ffd988"/>
<path d="M1110 538.5L1117 551.5L1103 551.5Z" fill="#ffd988"/>
<rect x="1108.5" y="553.5" width="10" height="10" fill="#ffd944"/>
<rect x="1117.5" y="489.5" width="10" height="10" fill="#ffd955"/>
<rect x="1113.5" y="499.5" width="10" height="10" fill="#ffd966"/>
<rect x="1108.5" y="503.5" width="10" height="10" fill="#ffd955"/>
<path d="M1120 510.5L1127 523.5L1113 523.5Z" fill="#ffd966"/>
<path d="M1114 506.5L1121 519.5L1107 519.5Z" fill="#ffdd99"/>
<path d="M1132 503.5L1139 516.5L1125 516.5Z" fill="#ffd955"/>
<path d="M1128 499.5L1135 512.5L1121 512.5Z" fill="#ddff11"/>
<path d="M1145 496.5L1152 509.5L1138 509.5Z" fill="#ffd955"/>
<path d="M1169 489.5L1176 502.5L1162 502.5Z" fill="#00ee00"/>
<path d="M1191 485.5L1198 498.5L1184 498.5Z" fill="#ffee11"/>
<path d="M1182 499.5L1189 512.5L1175 512.5Z" fill="#66ee00"/>
<path d="M1210 482.5L1217 495.5L1203 495.5Z" fill="#ffd966"/>
<path d="M1205 474.5L1212 487.5L1198 487.5Z" fill="#ffd955"/>
<path d="M1208 496.5L1215 509.5L1201 509.5Z" fill="#00ee44"/>
<path d="M1169 517.5L1176 530.5L1162 530.5Z" fill="#ffee33"/>
<path d="M1197 521.5L1204 534.5L1190 534.5Z" fill="#00ee44"/>
<rect x="1119.5" y="528.5" width="10" height="10" fill="#ffee22"/>
<path d="M1178 531.5L1185 544.5L1171 544.5Z" fill="#ffff11"/>
<rect x="1165.5" y="535.5" width="10" height="10" fill="#ffe033"/>
<path d="M1204 538.5L1211 551.5L1197 551.5Z" fill="#0a70ff"/>
<rect x="1171.5" y="577.5" width="10" height="10" fill="#ffee22"/>
<rect x="1242.5" y="589.5" width="10" height="10" fill="#ffe0b3"/>
<rect x="1272.5" y="563.5" width="10" height="10" fill="#ffdd88"/>
<path d="M1260 552.5L1267 565.5L1253 565.5Z" fill="#00ee22"/>
<path d="M1259 549.5L1266 562.5L1252 562.5Z" fill="#88ee00"/>
<path d="M1162 457.5L1169 470.5L1155 470.5Z" fill="#ffe633"/>
<path d="M1241 485.5L1248 498.5L1234 498.5Z" fill="#ffee11"/>
<path d="M1230 517.5L1237 530.5L1223 530.5Z" fill="#00ee22"/>
<path d="M1229 517.5L1236 530.5L1222 530.5Z" fill="#0a70ff"/>
<path d="M1231 510.5L1238 523.5L1224 523.5Z" fill="#ffd955"/>
<path d="M1232 510.5L1239 523.5L1225 523.5Z" fill="#ffd955"/>
<path d="M1216 531.5L1223 544.5L1209 544.5Z" fill="#eeff11"/>
<path d="M1295 524.5L1302 537.5L1288 537.5Z" fill="#77ee00"/>
<rect x="1297.5" y="574.5" width="10" height="10" fill="#ffee11"/>
<rect x="1394.5" y="549.5" width="10" height="10" fill="#ffd966"/>
<rect x="932.5" y="524.5" width="10" height="10" fill="#ffddaa"/>
</g>
<g shape-rendering="crispEdges" fill="none" stroke="#2a2a2a" stroke-width="1">
<rect x="74.5" y="31.5" width="662" height="590"/>
<rect x="761.5" y="31.5" width="668" height="590"/>
</g>
<g shape-rendering="crispEdges" stroke="#333" stroke-width="1">
<line x1="71" x2="74" y1="54.5" y2="54.5"/>
<line x1="1430" x2="1433" y1="54.5" y2="54.5"/>
<line x1="71" x2="74" y1="231.5" y2="231.5"/>
<line x1="1430" x2="1433" y1="231.5" y2="231.5"/>
<line x1="71" x2="74" y1="408.5" y2="408.5"/>
<line x1="1430" x2="1433" y1="408.5" y2="408.5"/>
<line x1="71" x2="74" y1="586.5" y2="586.5"/>
<line x1="1430" x2="1433" y1="586.5" y2="586.5"/>
<line x1="262.5" x2="262.5" y1="622" y2="624"/>
<line x1="488.5" x2="488.5" y1="622" y2="624"/>
<line x1="714.5" x2="714.5" y1="622" y2="624"/>
<line x1="951.5" x2="951.5" y1="622" y2="624"/>
<line x1="1179.5" x2="1179.5" y1="622" y2="624"/>
<line x1="1407.5" x2="1407.5" y1="622" y2="624"/>
</g>
<text class="tk" x="69" y="62.199999999999996" text-anchor="end">350</text>
<text class="tk" x="1434" y="62.0">350</text>
<text class="tk" x="69" y="239.4" text-anchor="end">300</text>
<text class="tk" x="1434" y="239.2">300</text>
<text class="tk" x="69" y="416.7" text-anchor="end">250</text>
<text class="tk" x="1434" y="416.5">250</text>
<text class="tk" x="69" y="593.9" text-anchor="end">200</text>
<text class="tk" x="1434" y="593.7">200</text>
<text class="tk" x="262.5" y="642.6" text-anchor="middle">10</text>
<text class="tk" x="488.5" y="642.6" text-anchor="middle">20</text>
<text class="tk" x="714.5" y="642.6" text-anchor="middle">30</text>
<text class="tk" x="951.5" y="642.6" text-anchor="middle">10</text>
<text class="tk" x="1179.5" y="642.6" text-anchor="middle">20</text>
<text class="tk" x="1407.5" y="642.6" text-anchor="middle">30</text>
<text x="314.40000000000003" y="670.6" font-size="20" textLength="149" lengthAdjust="spacingAndGlyphs" class="ax" >Discharge (m³ s</text>
<text x="463.5" y="659.6" font-size="14" textLength="15.5" lengthAdjust="spacingAndGlyphs" fill="#000">−1</text>
<text x="484.70000000000005" y="670.6" font-size="20" class="ax" >)</text>
<text x="1010.4" y="670.6" font-size="20" textLength="149" lengthAdjust="spacingAndGlyphs" class="ax" >Discharge (m³ s</text>
<text x="1159.5" y="659.6" font-size="14" textLength="15.5" lengthAdjust="spacingAndGlyphs" fill="#000">−1</text>
<text x="1180.7" y="670.6" font-size="20" class="ax" >)</text>
<g transform="translate(24.4,388.8) rotate(-90)"><text x="0" y="0" font-size="20.5" textLength="97.6" lengthAdjust="spacingAndGlyphs" class="ax" >EC (µS cm</text>
<text x="98.3" y="-11.1" font-size="14" textLength="15.5" lengthAdjust="spacingAndGlyphs" fill="#000">−1</text>
<text x="119.9" y="0" font-size="20.5" class="ax" >)</text></g>
<g transform="translate(1475.6,262.4) rotate(90)"><text x="0" y="0" font-size="20.5" textLength="97.6" lengthAdjust="spacingAndGlyphs" class="ax" >EC (µS cm</text>
<text x="98.3" y="-11.1" font-size="14" textLength="15.5" lengthAdjust="spacingAndGlyphs" fill="#000">−1</text>
<text x="119.9" y="0" font-size="20.5" class="ax" >)</text></g>
<text x="343.4" y="75.3" font-size="19" textLength="136.6" lengthAdjust="spacingAndGlyphs" class="lg" >Snow presence</text>
<rect x="351.5" y="87.5" width="10" height="10" fill="none" stroke="#000" stroke-width="1" shape-rendering="crispEdges"/>
<text x="371.4" y="101.3" font-size="19" textLength="73.3" lengthAdjust="spacingAndGlyphs" class="lg" >Present</text>
<path d="M357 106.5L364 119.5L350 119.5Z" fill="none" stroke="#000" stroke-width="1" shape-rendering="crispEdges"/>
<text x="371.4" y="124.7" font-size="19" textLength="109.6" lengthAdjust="spacingAndGlyphs" class="lg" >Not present</text>
<text x="513" y="78" font-size="19" textLength="133.1" lengthAdjust="spacingAndGlyphs" class="lg" >Daily maximum</text>
<text x="513.7" y="99.8" font-size="19" textLength="178.1" lengthAdjust="spacingAndGlyphs" class="lg" >air temperature (°C)</text>
<rect x="564" y="111.9" width="23" height="114.8" fill="url(#topo)"/>
<line x1="564" x2="568.4" y1="127.4" y2="127.4" stroke="#fff" stroke-width="1"/>
<line x1="582.4" x2="587" y1="127.4" y2="127.4" stroke="#fff" stroke-width="1"/>
<text class="lg" font-size="19" x="592.6" y="134.4">15</text>
<line x1="564" x2="568.4" y1="160.4" y2="160.4" stroke="#fff" stroke-width="1"/>
<line x1="582.4" x2="587" y1="160.4" y2="160.4" stroke="#fff" stroke-width="1"/>
<text class="lg" font-size="19" x="592.6" y="167.4">10</text>
<line x1="564" x2="568.4" y1="192.5" y2="192.5" stroke="#fff" stroke-width="1"/>
<line x1="582.4" x2="587" y1="192.5" y2="192.5" stroke="#fff" stroke-width="1"/>
<text class="lg" font-size="19" x="592.6" y="199.5">5</text>
<line x1="564" x2="568.4" y1="224.7" y2="224.7" stroke="#fff" stroke-width="1"/>
<line x1="582.4" x2="587" y1="224.7" y2="224.7" stroke="#fff" stroke-width="1"/>
<text class="lg" font-size="19" x="592.6" y="231.7">0</text>
<text x="1100.1" y="79.4" font-size="19" textLength="132.8" lengthAdjust="spacingAndGlyphs" class="lg" >Daily maximum</text>
<text x="1100.9" y="101.4" font-size="19" textLength="236.4" lengthAdjust="spacingAndGlyphs" class="lg" >global solar radiation (W m</text>
<text x="1337.3" y="90" font-size="13.5" textLength="15.5" lengthAdjust="spacingAndGlyphs" class="lg" >−2</text>
<text x="1358" y="101.4" font-size="19" class="lg" >)</text>
<rect x="1179" y="111.3" width="23.2" height="114.6" fill="url(#topo2)"/>
<line x1="1179" x2="1183.4" y1="132.9" y2="132.9" stroke="#fff" stroke-width="1"/>
<line x1="1197.6" x2="1202.2" y1="132.9" y2="132.9" stroke="#fff" stroke-width="1"/>
<text class="lg" font-size="19" x="1208.3" y="141.1">1200</text>
<line x1="1179" x2="1183.4" y1="163.3" y2="163.3" stroke="#fff" stroke-width="1"/>
<line x1="1197.6" x2="1202.2" y1="163.3" y2="163.3" stroke="#fff" stroke-width="1"/>
<text class="lg" font-size="19" x="1208.3" y="171.5">900</text>
<line x1="1179" x2="1183.4" y1="193.5" y2="193.5" stroke="#fff" stroke-width="1"/>
<line x1="1197.6" x2="1202.2" y1="193.5" y2="193.5" stroke="#fff" stroke-width="1"/>
<text class="lg" font-size="19" x="1208.3" y="201.7">600</text>
<line x1="1179" x2="1183.4" y1="223.5" y2="223.5" stroke="#fff" stroke-width="1"/>
<line x1="1197.6" x2="1202.2" y1="223.5" y2="223.5" stroke="#fff" stroke-width="1"/>
<text class="lg" font-size="19" x="1208.3" y="231.7">300</text>
<rect x="514" y="104" width="24" height="4" fill="#ffe9d0" opacity="0.3"/>
<rect x="1101" y="111" width="23" height="8" fill="#fff1e0" opacity="0.4"/>
<text x="583.2" y="475.6" font-size="15" font-weight="bold">P</text>
<text x="595.6" y="481.7" font-size="9.5" textLength="11" lengthAdjust="spacingAndGlyphs" >1d</text>
<text x="609.2" y="475.6" font-size="15" textLength="96.2" lengthAdjust="spacingAndGlyphs" font-weight="bold">= 12.2 mm d</text>
<text x="705.0" y="470.2" font-size="9" textLength="7.4" lengthAdjust="spacingAndGlyphs" >-1</text>
<line x1="693.5" y1="500" x2="627" y2="540.6" stroke="#000" stroke-width="4.2"/>
<path d="M601.3 556.4L629.7 527.3L627.1 538.5L640.3 544.2Z" fill="#000"/>
</svg></body></html>
